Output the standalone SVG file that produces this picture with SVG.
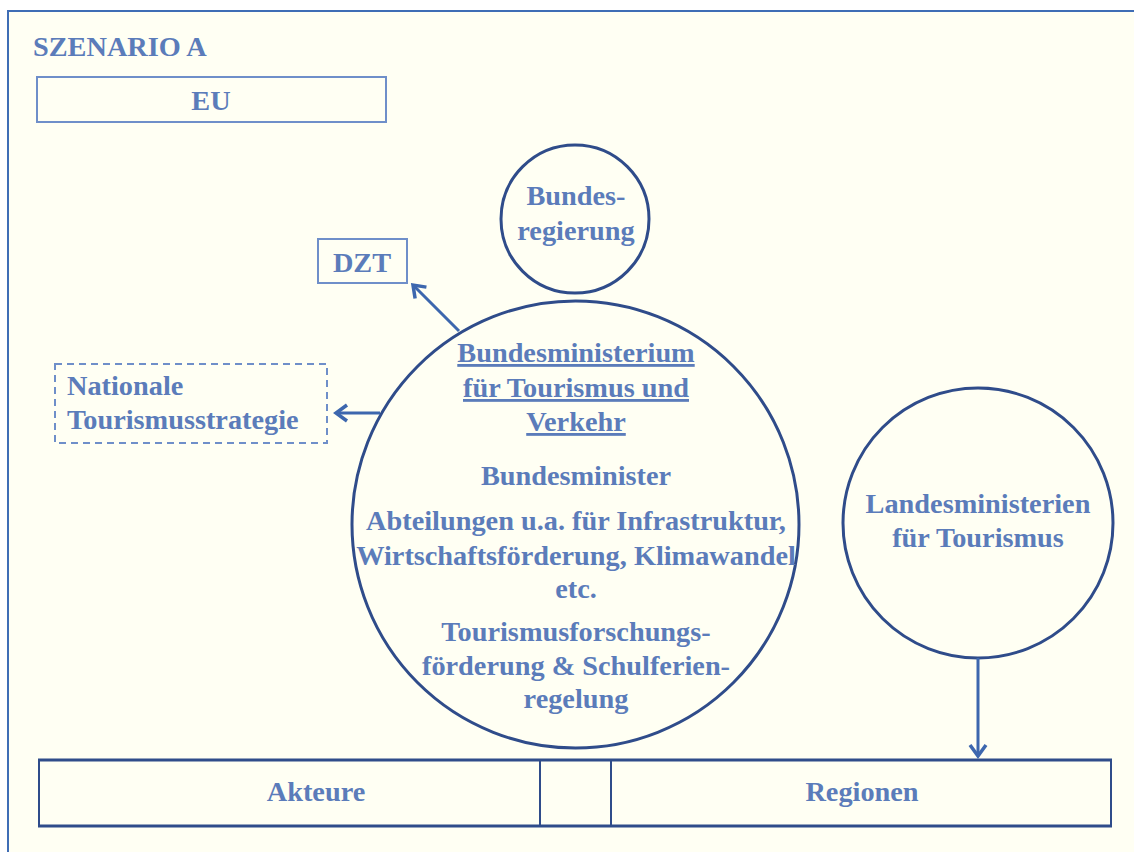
<svg xmlns="http://www.w3.org/2000/svg" width="1134" height="852" viewBox="0 0 1134 852">
  <style>
    text { font-family: "Liberation Serif", "Times New Roman", serif; font-weight: bold; fill: #5B7CBA; font-size: 28.3px; }
    .c { text-anchor: middle; }
    .circ { fill: none; stroke: #2F4C8A; stroke-width: 3; }
    .box { fill: none; stroke: #6F8FC9; stroke-width: 2; }
    .conn { stroke: #3D67AE; stroke-width: 3; fill: none; }
    .u { text-decoration: underline; }
  </style>
  <defs>
    <marker id="arr" markerUnits="userSpaceOnUse" markerWidth="18" markerHeight="20" refX="14" refY="10" orient="auto">
      <path d="M3,2 L14,10 L3,18" fill="none" stroke="#3D67AE" stroke-width="3.5"/>
    </marker>
  </defs>
  <rect x="0" y="0" width="1134" height="852" fill="#FFFFFF"/>
  <rect id="frame" x="8" y="11" width="1140" height="860" fill="#FFFFF3" stroke="#3F6DB5" stroke-width="2"/>

  <g id="title">
    <text x="33" y="56" font-size="28.7">SZENARIO A</text>
  </g>

  <g id="eu">
    <rect class="box" x="37" y="77" width="349" height="45"/>
    <text class="c" x="211" y="110">EU</text>
  </g>

  <g id="dzt">
    <rect class="box" x="318" y="239" width="89" height="44"/>
    <text class="c" x="362" y="272">DZT</text>
  </g>

  <g id="nationale">
    <rect class="box" x="55" y="364" width="272" height="79" stroke-dasharray="7,5"/>
    <text x="67" y="395">Nationale</text>
    <text x="67" y="429">Tourismusstrategie</text>
  </g>

  <g id="bundesregierung">
    <circle class="circ" cx="575" cy="219" r="74"/>
    <text class="c" x="576" y="205">Bundes-</text>
    <text class="c" x="576" y="240">regierung</text>
  </g>

  <g id="ministerium">
    <circle class="circ" cx="575.5" cy="524.5" r="223.5"/>
    <text class="c u" x="576" y="362">Bundesministerium</text>
    <text class="c u" x="576" y="397">für Tourismus und</text>
    <text class="c u" x="576" y="431">Verkehr</text>
    <text class="c" x="576" y="485">Bundesminister</text>
    <text class="c" x="576" y="530">Abteilungen u.a. für Infrastruktur,</text>
    <text class="c" x="576" y="565">Wirtschaftsförderung, Klimawandel</text>
    <text class="c" x="576" y="598">etc.</text>
    <text class="c" x="576" y="641">Tourismusforschungs-</text>
    <text class="c" x="576" y="675">förderung &amp; Schulferien-</text>
    <text class="c" x="576" y="708">regelung</text>
  </g>

  <g id="landesministerien">
    <circle class="circ" cx="978" cy="523" r="135"/>
    <text class="c" x="978" y="513">Landesministerien</text>
    <text class="c" x="978" y="547">für Tourismus</text>
  </g>

  <g id="bottom">
    <rect x="39" y="760" width="1072" height="66" fill="none" stroke="#2F4C8A" stroke-width="2"/>
    <line x1="38" y1="760" x2="1112" y2="760" stroke="#2F4C8A" stroke-width="3"/>
    <line x1="38" y1="826" x2="1112" y2="826" stroke="#2F4C8A" stroke-width="3"/>
    <line x1="540" y1="760" x2="540" y2="826" stroke="#2F4C8A" stroke-width="2"/>
    <line x1="611" y1="760" x2="611" y2="826" stroke="#2F4C8A" stroke-width="2"/>
    <text class="c" x="316" y="801">Akteure</text>
    <text class="c" x="862" y="801">Regionen</text>
  </g>

  <g id="connectors">
    <line class="conn" x1="459" y1="331" x2="413" y2="285" marker-end="url(#arr)"/>
    <line class="conn" x1="380" y1="413" x2="336" y2="413" marker-end="url(#arr)"/>
    <line class="conn" x1="978" y1="658" x2="978" y2="756" marker-end="url(#arr)"/>
  </g>
</svg>
